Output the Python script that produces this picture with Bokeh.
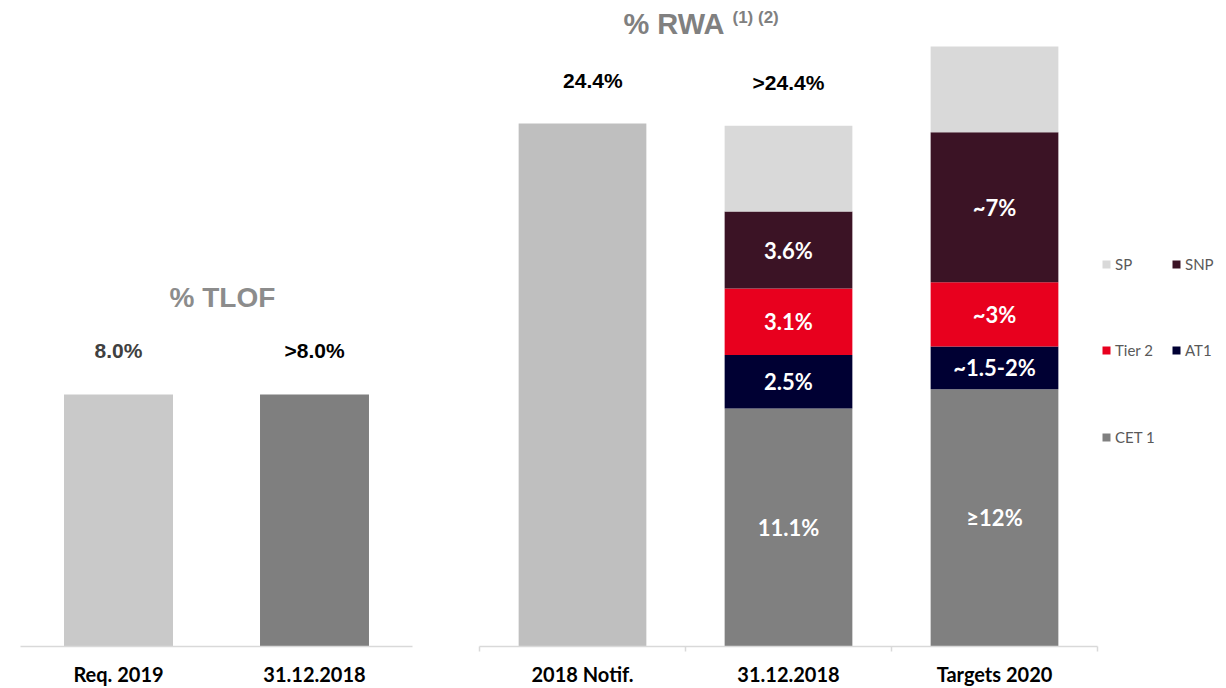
from bokeh.plotting import figure
from bokeh.layouts import row
from bokeh.models import ColumnDataSource, FixedTicker, Legend, LegendItem, Range1d
from bokeh.core.properties import value
from bokeh.embed import file_html
from bokeh.resources import INLINE

# ---------------- data ----------------
tlof_cats = ["Req. 2019", "31.12.2018"]
tlof_vals = [8.0, 8.0]
tlof_labels = ["8.0%", ">8.0%"]
tlof_colors = ["#c9c9c9", "#7f7f7f"]
tlof_label_colors = ["#404040", "#000000"]

rwa_cats = ["2018 Notif.", "31.12.2018", "Targets 2020"]
rwa_notif = [24.4, 0.0, 0.0]
cet1 = [0.0, 11.1, 12.0]
at1 = [0.0, 2.5, 2.0]
tier2 = [0.0, 3.1, 3.0]
snp = [0.0, 3.6, 7.0]
sp = [0.0, 4.0, 4.0]
cet1_lbl = ["", "11.1%", "\u226512%"]
at1_lbl = ["", "2.5%", "~1.5-2%"]
tier2_lbl = ["", "3.1%", "~3%"]
snp_lbl = ["", "3.6%", "~7%"]
rwa_top_labels = ["24.4%", ">24.4%", ""]

series_names = ["CET 1", "AT1", "Tier 2", "SNP", "SP"]
series_keys = ["cet1", "at1", "tier2", "snp", "sp"]
series_colors = ["#808080", "#000033", "#e8001e", "#3b1325", "#d9d9d9"]

LABEL_FONT = "Liberation Sans"
CAT_FONT = "Lato"


def style_axis(p):
    ax = p.xaxis[0]
    ax.axis_line_color = "#d9d9d9"
    ax.axis_line_width = 1.5
    ax.major_tick_line_color = None
    ax.major_label_text_font = CAT_FONT
    ax.major_label_text_font_size = "20px"
    ax.major_label_text_font_style = "bold"
    ax.major_label_text_color = "#000000"
    ax.major_label_standoff = 9
    p.xgrid.visible = False
    p.ygrid.visible = False
    p.outline_line_color = None


# ---------------- left panel: % TLOF ----------------
xs_l = [i + 0.5 for i in range(len(tlof_cats))]
src_l = ColumnDataSource(dict(
    x=xs_l, v=tlof_vals, color=tlof_colors, lbl=tlof_labels,
    ly=[v + 1.4 for v in tlof_vals], lc=tlof_label_colors))

pl = figure(frame_width=392, frame_height=638,
            min_border_left=20, min_border_right=46,
            min_border_top=8, min_border_bottom=34,
            x_range=Range1d(0, len(tlof_cats)), y_range=Range1d(0, 20.25),
            y_axis_location=None, toolbar_location=None, output_backend="svg")
pl.vbar(x="x", top="v", width=0.556, fill_color="color", line_color=None, source=src_l)
pl.text(x="x", y="ly", text="lbl", text_color="lc", source=src_l,
        text_font=value(LABEL_FONT), text_font_size="21px", text_font_style="bold",
        text_align="center", text_baseline="middle")
pl.text(x=[1.03], y=[11.08], text=["% TLOF"], text_color="#8c8c8c",
        text_font=value(LABEL_FONT), text_font_size="28px", text_font_style="bold",
        text_align="center", text_baseline="middle")
pl.xaxis.ticker = FixedTicker(ticks=xs_l)
pl.xaxis.major_label_overrides = {x: c for x, c in zip(xs_l, tlof_cats)}
pl.xaxis.minor_tick_line_color = None
style_axis(pl)

# ---------------- right panel: % RWA ----------------
CAT_PX = 206.0
FRAME_W = 739
xs_r = [i + 0.5 for i in range(len(rwa_cats))]
data_r = dict(x=xs_r, notif=rwa_notif, cet1=cet1, at1=at1, tier2=tier2, snp=snp, sp=sp)
src_r = ColumnDataSource(data_r)

pr = figure(frame_width=FRAME_W, frame_height=638,
            min_border_left=21, min_border_right=0,
            min_border_top=8, min_border_bottom=34,
            x_range=Range1d(0, FRAME_W / CAT_PX), y_range=Range1d(0, 29.77),
            y_axis_location=None, toolbar_location=None, output_backend="svg")
pr.vbar(x="x", top="notif", width=0.62, fill_color="#bfbfbf", line_color=None, source=src_r)
rs = pr.vbar_stack(series_keys, x="x", width=0.62, fill_color=series_colors,
                   line_color=None, source=src_r)

# labels inside segments (segment midpoints)
seg_lists = [cet1, at1, tier2, snp]
lbl_lists = [cet1_lbl, at1_lbl, tier2_lbl, snp_lbl]
lx, ly, lt = [], [], []
for i in range(len(rwa_cats)):
    base = 0.0
    for vals, lbls in zip(seg_lists, lbl_lists):
        if lbls[i]:
            lx.append(xs_r[i])
            ly.append(base + vals[i] / 2.0)
            lt.append(lbls[i])
        base += vals[i]
pr.text(x=lx, y=ly, text=lt, text_color="#ffffff",
        text_font=value(CAT_FONT), text_font_size="22px", text_font_style="bold",
        text_align="center", text_baseline="middle")

# labels above bars
totals = [rwa_notif[i] + cet1[i] + at1[i] + tier2[i] + snp[i] + sp[i] for i in range(len(rwa_cats))]
tx = [xs_r[i] + (0.05 if i == 0 else 0.0) for i in range(len(rwa_cats)) if rwa_top_labels[i]]
ty = [totals[i] + 2.0 for i in range(len(rwa_cats)) if rwa_top_labels[i]]
tt = [t for t in rwa_top_labels if t]
pr.text(x=tx, y=ty, text=tt, text_color="#000000",
        text_font=value(LABEL_FONT), text_font_size="21px", text_font_style="bold",
        text_align="center", text_baseline="middle")

# title
pr.text(x=[0.699], y=[29.07], text=["% RWA"], text_color="#808080",
        text_font=value(LABEL_FONT), text_font_size="29px", text_font_style="bold",
        text_align="left", text_baseline="middle")
pr.text(x=[1.228], y=[29.35], text=["(1) (2)"], text_color="#808080",
        text_font=value(LABEL_FONT), text_font_size="17px", text_font_style="bold",
        text_align="left", text_baseline="middle")

pr.xaxis.ticker = FixedTicker(ticks=xs_r, minor_ticks=[0, 1, 2, 3])
pr.xaxis.major_label_overrides = {x: c for x, c in zip(xs_r, rwa_cats)}
pr.xaxis.bounds = (0, len(rwa_cats))
pr.xaxis.minor_tick_in = 0
pr.xaxis.minor_tick_out = 5
pr.xaxis.minor_tick_line_color = "#d9d9d9"
pr.xaxis.minor_tick_line_width = 1.5
style_axis(pr)

# legend rows
rmap = dict(zip(series_names, rs))
rows_spec = [(["SP", "SNP"], 373), (["Tier 2", "AT1"], 287), (["CET 1"], 200)]
for names, yloc in rows_spec:
    lg = Legend(items=[LegendItem(label=n, renderers=[rmap[n]]) for n in names],
                location=(622, yloc), orientation="horizontal",
                glyph_width=10, glyph_height=10, label_standoff=4,
                label_width=56, spacing=0, padding=0, margin=0,
                border_line_color=None, background_fill_alpha=0,
                label_text_font=CAT_FONT, label_text_font_size="15px",
                label_text_color="#595959")
    pr.add_layout(lg, "center")

layout = row(pl, pr)
open("out.html", "w").write(file_html(layout, INLINE))
